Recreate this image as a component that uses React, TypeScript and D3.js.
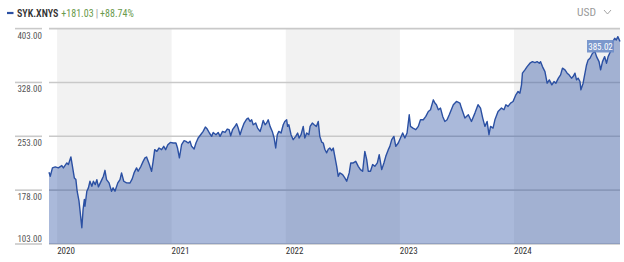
import React from "react";
import * as d3 from "d3";

const dates = [
  "2019-12-06","2019-12-10","2019-12-17","2019-12-26","2020-01-05","2020-01-16","2020-01-21","2020-02-01","2020-02-06","2020-02-14",
  "2020-02-19","2020-02-25","2020-03-01","2020-03-05","2020-03-11","2020-03-15","2020-03-20","2020-03-24","2020-03-28","2020-03-30",
  "2020-04-05","2020-04-10","2020-04-15","2020-04-21","2020-04-26","2020-05-02","2020-05-07","2020-05-12","2020-05-23","2020-05-28",
  "2020-06-02","2020-06-07","2020-06-15","2020-06-23","2020-06-28","2020-07-04","2020-07-13","2020-07-20","2020-07-25","2020-08-01",
  "2020-08-10","2020-08-21","2020-08-28","2020-09-03","2020-09-11","2020-09-16","2020-09-25","2020-10-02","2020-10-08","2020-10-13",
  "2020-10-22","2020-10-29","2020-11-03","2020-11-08","2020-11-15","2020-11-22","2020-11-30","2020-12-07","2020-12-13","2020-12-20",
  "2020-12-28","2021-01-06","2021-01-15","2021-01-20","2021-01-26","2021-02-02","2021-02-10","2021-02-16","2021-02-23","2021-03-01",
  "2021-03-06","2021-03-14","2021-03-20","2021-03-27","2021-04-04","2021-04-12","2021-04-19","2021-04-25","2021-05-02","2021-05-09",
  "2021-05-14","2021-05-23","2021-05-30","2021-06-05","2021-06-13","2021-06-21","2021-06-28","2021-07-04","2021-07-09","2021-07-15",
  "2021-07-23","2021-07-28","2021-08-02","2021-08-08","2021-08-13","2021-08-21","2021-08-29","2021-09-03","2021-09-09","2021-09-14",
  "2021-09-19","2021-09-27","2021-10-03","2021-10-11","2021-10-16","2021-10-21","2021-10-27","2021-11-01","2021-11-06","2021-11-12",
  "2021-11-19","2021-11-25","2021-11-30","2021-12-05","2021-12-10","2021-12-17","2021-12-24","2021-12-29","2022-01-04","2022-01-07",
  "2022-01-11","2022-01-18","2022-01-25","2022-02-02","2022-02-08","2022-02-13","2022-02-19","2022-02-26","2022-03-03","2022-03-09",
  "2022-03-16","2022-03-20","2022-03-27","2022-04-02","2022-04-09","2022-04-15","2022-04-20","2022-04-26","2022-05-01","2022-05-06",
  "2022-05-12","2022-05-17","2022-05-22","2022-05-28","2022-06-02","2022-06-07","2022-06-13","2022-06-18","2022-06-23","2022-07-02",
  "2022-07-09","2022-07-15","2022-07-23","2022-07-28","2022-08-05","2022-08-13","2022-08-21","2022-08-28","2022-09-04","2022-09-11",
  "2022-09-17","2022-09-22","2022-09-29","2022-10-06","2022-10-13","2022-10-21","2022-10-27","2022-11-04","2022-11-11","2022-11-17",
  "2022-11-25","2022-11-30","2022-12-06","2022-12-13","2022-12-19","2022-12-27","2023-01-03","2023-01-10","2023-01-17","2023-01-24",
  "2023-01-31","2023-02-04","2023-02-12","2023-02-21","2023-03-01","2023-03-08","2023-03-17","2023-03-25","2023-04-02","2023-04-09",
  "2023-04-18","2023-04-23","2023-04-28","2023-05-04","2023-05-11","2023-05-18","2023-05-25","2023-06-01","2023-06-08","2023-06-21",
  "2023-07-01","2023-07-12","2023-07-17","2023-07-28","2023-08-08","2023-08-18","2023-08-29","2023-09-08","2023-09-16","2023-09-23",
  "2023-09-30","2023-10-07","2023-10-13","2023-10-18","2023-10-26","2023-11-01","2023-11-11","2023-11-22","2023-11-30","2023-12-06",
  "2023-12-13","2023-12-21","2023-12-29","2024-01-07","2024-01-14","2024-01-20","2024-01-25","2024-01-28","2024-02-05","2024-02-12",
  "2024-02-21","2024-02-29","2024-03-08","2024-03-15","2024-03-22","2024-03-26","2024-04-01","2024-04-09","2024-04-16","2024-04-23",
  "2024-05-01","2024-05-08","2024-05-14","2024-05-22","2024-05-29","2024-06-04","2024-06-12","2024-06-19","2024-06-25","2024-07-03",
  "2024-07-08","2024-07-14","2024-07-19","2024-07-24","2024-07-30","2024-08-02","2024-08-09","2024-08-15","2024-08-20","2024-08-25",
  "2024-08-31","2024-09-08","2024-09-16","2024-09-21","2024-09-29","2024-10-04","2024-10-10","2024-10-17","2024-10-23","2024-10-28",
  "2024-11-02","2024-11-07","2024-11-12","2024-11-18","2024-11-23","2024-11-28","2024-12-05"
];

const prices = [
  202.9,197.3,209.0,210.4,209.0,212.2,209.0,215.9,213.6,224.2,
  211.0,195.0,192.7,176.5,162.6,146.4,125.6,151.0,165.0,155.6,
  176.5,181.2,190.4,183.4,190.4,185.8,192.7,182.6,192.7,197.3,
  205.6,192.7,188.1,176.5,181.2,176.5,188.1,192.7,202.0,190.4,
  188.1,188.0,193.7,202.0,209.0,204.3,211.2,218.1,222.9,224.2,
  213.6,204.3,218.1,234.4,232.0,236.7,234.4,239.0,234.4,241.3,
  244.5,243.7,243.7,236.7,222.9,241.3,246.9,246.0,243.7,246.0,
  239.0,235.3,243.7,250.6,255.2,259.8,265.9,263.1,257.6,252.9,
  258.4,255.2,258.4,252.9,259.8,258.4,263.1,262.2,253.8,262.2,
  267.0,270.5,264.5,255.2,262.2,271.5,277.0,278.4,273.7,276.0,
  269.1,271.5,264.5,259.8,266.8,275.1,269.1,271.5,276.0,266.8,
  259.8,250.6,236.7,255.2,259.8,257.6,269.1,273.7,276.0,266.8,
  269.1,255.2,248.3,252.9,257.6,250.6,255.2,266.8,250.6,257.6,
  255.2,266.8,271.5,269.1,266.8,273.7,252.9,245.0,243.7,235.0,
  230.0,235.0,236.7,233.0,236.7,225.1,211.2,197.3,202.0,199.7,
  195.0,190.4,202.0,215.9,215.9,218.1,211.2,206.6,204.3,232.0,
  220.5,204.3,204.3,213.6,211.2,215.9,227.5,206.6,215.9,225.1,
  234.4,239.0,248.3,252.9,239.0,243.7,250.6,257.6,250.6,257.6,
  283.0,266.8,264.5,262.2,266.8,276.0,276.0,280.7,287.6,290.0,
  303.8,299.3,296.9,290.0,292.3,280.7,273.7,276.0,283.0,296.9,
  301.5,299.3,292.3,278.4,283.0,273.7,285.3,296.9,292.3,278.4,
  266.8,273.7,255.2,266.8,264.5,276.0,287.6,292.3,290.0,296.9,
  294.6,299.3,301.5,310.8,315.4,313.1,324.7,340.9,345.5,350.1,
  354.8,357.0,355.6,357.0,354.8,357.0,350.1,343.1,327.0,331.6,
  324.7,329.3,327.0,334.0,338.6,347.9,345.5,340.9,338.6,334.0,
  336.2,340.9,331.6,334.0,329.3,317.7,327.0,340.9,352.4,359.4,
  361.7,368.7,370.9,364.0,357.0,345.5,357.0,364.0,354.8,364.0,
  368.7,373.3,384.8,389.5,387.2,391.8,385.02
];

const yTicks = [103, 178, 253, 328, 403];
const yearLabels = ["2020", "2021", "2022", "2023", "2024"];
const shadedYears = [2020, 2022, 2024];
const ticker = "SYK.XNYS";
const changeAbs = "+181.03";
const changePct = "+88.74%";
const currency = "USD";
const lastValue = 385.02;

const FONT = "'Liberation Sans Narrow', 'Roboto Condensed', 'Arial Narrow', 'Liberation Sans', sans-serif";

export default function App() {
  const W = 624, H = 262;
  const left = 49, right = 620, top = 28.6, bottom = 244;
  const parse = d3.timeParse("%Y-%m-%d");
  const data = dates.map((d, i) => ({ date: parse(d) as Date, v: prices[i] }));
  const x = d3.scaleTime()
    .domain([data[0].date, data[data.length - 1].date])
    .range([left, right]);
  const y = d3.scaleLinear().domain([103, 403]).range([bottom, top]);

  const line = d3.line<{ date: Date; v: number }>()
    .x(d => x(d.date)).y(d => y(d.v)).curve(d3.curveLinear);
  const area = d3.area<{ date: Date; v: number }>()
    .x(d => x(d.date)).y0(bottom).y1(d => y(d.v)).curve(d3.curveLinear);

  const blue = "#2b50a3";
  const lastY = y(lastValue);

  return (
    <div style={{ position: "fixed", left: 0, top: 0 }}>
      <svg width={W} height={H} style={{ display: "block", background: "#fff" }}>
        {/* header */}
        <line x1={7} x2={13.5} y1={13} y2={13} stroke={blue} strokeWidth={2.2} />
        <text x={17} y={16.5} fontFamily={FONT} fontSize={10} fill="#333">
          <tspan fontWeight={600}>{ticker}</tspan>
          <tspan dx={3} fill="#6a9a4c">{changeAbs}</tspan>
          <tspan dx={2} fill="#999">|</tspan>
          <tspan dx={2} fill="#6a9a4c">{changePct}</tspan>
        </text>
        <text x={596} y={15.5} fontFamily={FONT} fontSize={11.5} fill="#9a9a9a" textAnchor="end">{currency}</text>
        <path d="M604,10 L607.5,14 L611,10" fill="none" stroke="#9a9a9a" strokeWidth={0.9} />

        {/* year bands */}
        {shadedYears.map(yr => {
          const x0 = Math.max(left, x(new Date(yr, 0, 1)));
          const x1 = Math.min(right, x(new Date(yr + 1, 0, 1)));
          return <rect key={yr} x={x0} y={top} width={x1 - x0} height={bottom - top} fill="#f2f2f2" />;
        })}

        {/* grid lines */}
        {yTicks.map(t => (
          <g key={t}>
            <line x1={left} x2={right} y1={y(t)} y2={y(t)} stroke="#c9c9c9" strokeWidth={1.6} />
            <line x1={15} x2={42} y1={y(t)} y2={y(t)} stroke="#c9c9c9" strokeWidth={1.6} />
            <text x={42} y={y(t) + (t === 103 ? -2.5 : 10)} textAnchor="end" fontFamily={FONT} fontSize={9} fill="#555">
              {t.toFixed(2)}
            </text>
          </g>
        ))}

        {/* area + line */}
        <path d={area(data) || ""} fill={blue} fillOpacity={0.4} />
        <path d={line(data) || ""} fill="none" stroke={blue} strokeWidth={1.4} strokeLinejoin="round" />

        {/* x labels */}
        {yearLabels.map(l => (
          <text key={l} x={x(new Date(+l, 0, 1))} y={253.5} fontFamily={FONT} fontSize={9} fill="#333">{l}</text>
        ))}

        {/* last value label */}
        <rect x={587} y={lastY - 1.5} width={27} height={12.5} fill="#6f8ec8" fillOpacity={0.9} />
        <text x={600.5} y={lastY + 8} textAnchor="middle" fontFamily={FONT} fontSize={9} fill="#fff">
          {lastValue.toFixed(2)}
        </text>
      </svg>
    </div>
  );
}
